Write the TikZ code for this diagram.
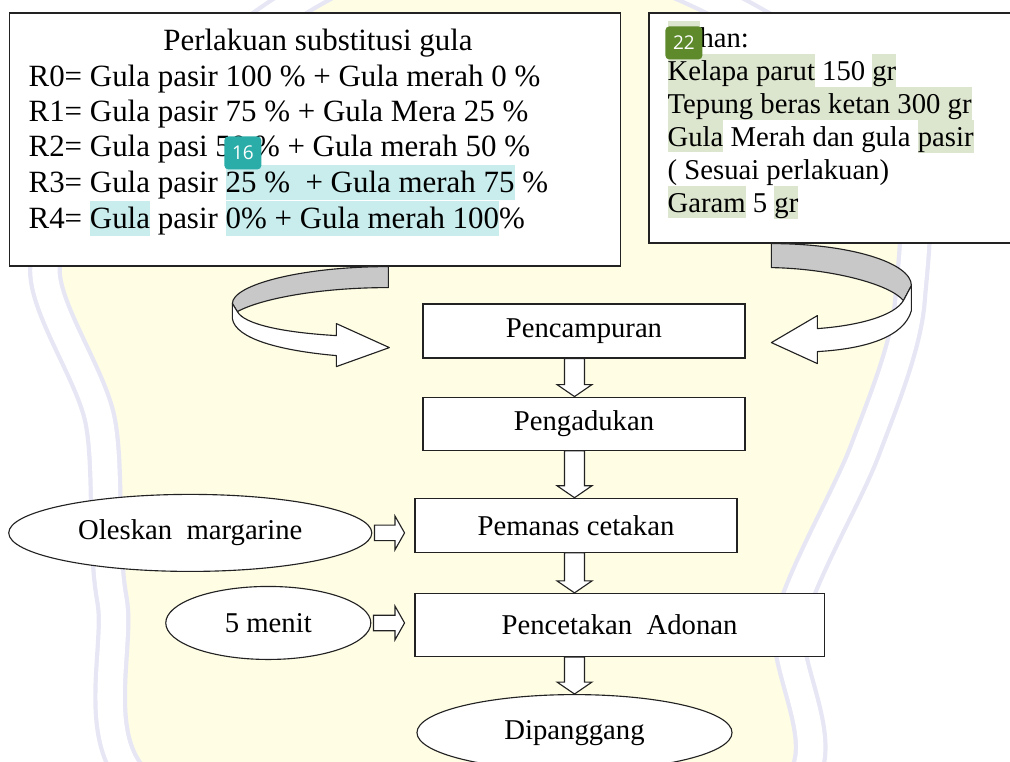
\documentclass[tikz,border=0pt]{standalone}
\usepackage{fontspec}
\setmainfont{Liberation Serif}
\newfontfamily\badgefont{Open Sans}
\usepackage{xcolor}
\definecolor{boxLine}{HTML}{222222}
\definecolor{ribbonGray}{HTML}{C8C8C8}
\definecolor{hlTeal}{HTML}{C9ECEC}
\definecolor{hlGreen}{HTML}{DCE5CE}
\definecolor{badgeTeal}{HTML}{2AADA8}
\definecolor{badgeGreen}{HTML}{5E8A2C}
\definecolor{wmYellow}{HTML}{FFFDE4}
\definecolor{wmLilac}{HTML}{E6E6F5}
\usepackage{tikz}
\usetikzlibrary{
    shapes.geometric,
    positioning,
    calc
}
\tikzset{
    % Boxes holding the treatment and ingredient lists
    listbox/.style={
        rectangle,
        draw=boxLine,
        line width=0.8pt,
        fill=white,
        inner sep=0pt,
    },
    % One text line inside a list box
    listline/.style={
        anchor=base west,
        inner sep=0pt,
    },
    % Process steps
    procbox/.style={
        rectangle,
        draw=boxLine,
        line width=0.8pt,
        fill=white,
        inner sep=0pt,
        font=\fontsize{20.4}{24}\selectfont,
    },
    % Ellipses for extra steps and the end
    endpoint/.style={
        ellipse,
        draw=boxLine,
        line width=0.8pt,
        fill=white,
        inner sep=0pt,
        font=\fontsize{20.4}{24}\selectfont,
    },
    % Hollow block arrows
    blockarrow/.style={
        draw=boxLine,
        line width=0.8pt,
        fill=white,
        line join=miter,
    },
    % Curled ribbon arrows
    ribbon back/.style={
        draw=boxLine,
        line width=0.8pt,
        fill=ribbonGray,
        line join=round,
    },
    ribbon front/.style={
        ribbon back,
        fill=white,
    },
    % Small numbered badges
    badge/.style={
        rounded corners=2.8pt,
        text=white,
        inner sep=0pt,
        minimum width=0.925cm,
        minimum height=0.825cm,
        font=\badgefont\fontsize{13.5}{13.5}\selectfont,
    },
}
\newcommand{\hlT}[1]{{\setlength{\fboxsep}{0pt}\colorbox{hlTeal}{\rule[-5.7pt]{0pt}{24.9pt}#1}}}
\newcommand{\hlG}[1]{{\setlength{\fboxsep}{0pt}\colorbox{hlGreen}{\rule[-4.3pt]{0pt}{22.8pt}#1}}}
\newcommand{\flowdown}[2]{%
    \draw [blockarrow] let \p1=(axis |- #1.south), \p2=(axis |- #2.north) in
        (\x1-7.1pt,\y1) -- (\x1+7.1pt,\y1) -- (\x1+7.1pt,\y2+8.5pt)
        -- (\x1+12.4pt,\y2+8.5pt) -- (\x2,\y2) -- (\x1-12.4pt,\y2+8.5pt)
        -- (\x1-7.1pt,\y2+8.5pt) -- cycle;}
\newcommand{\flowside}[2]{%
    \draw [blockarrow] let \p1=(#1.east), \p2=(#2.west |- #1.east) in
        (\x1+1.5pt,\y1+5.5pt) -- (\x2-13.8pt,\y1+5.5pt) -- (\x2-13.8pt,\y1+12pt)
        -- (\x2-7pt,\y1) -- (\x2-13.8pt,\y1-12pt) -- (\x2-13.8pt,\y1-5.5pt)
        -- (\x1+1.5pt,\y1-5.5pt) -- cycle;}

\begin{document}
\begin{tikzpicture}[x=0.025cm, y=-0.025cm]
    \useasboundingbox (0,0) rectangle (1010,761);

    % faint emblem behind the chart
    \fill [wmYellow] plot [smooth cycle] coordinates {
        (360,-30) (120,140) (45,267) (100,420) (112,600) (170,800)
        (770,800) (790,620) (865,450) (910,300) (890,120) (640,-30)};
    \draw [wmLilac, line width=3pt, double=white, double distance=18pt]
        plot [smooth cycle] coordinates {
        (360,-30) (120,140) (45,267) (100,420) (112,600) (170,800)
        (770,800) (790,620) (865,450) (910,300) (890,120) (640,-30)};

    % treatment list
    \node (treat) [listbox, minimum width=15.25cm, minimum height=6.325cm] at (315,139.5) {};
    \begin{scope}[font=\fontsize{22}{25}\selectfont]
        \node (title) [inner sep=0pt, anchor=base] at ($(treat.north)+(3,38)$) {Perlakuan substitusi gula};
        \node (r0) [listline] at ($(treat.north west)+(19,74)$) {R0= Gula pasir 100 \% + Gula merah 0 \%};
        \node (r1) [listline] at ($(treat.north west)+(19,109)$) {R1= Gula pasir 75 \% + Gula Mera 25 \%};
        \node (r2) [listline] at ($(treat.north west)+(19,144)$) {R2= Gula pasi 50 \% + Gula merah 50 \%};
        \node (r3) [listline] at ($(treat.north west)+(19,180)$) {R3= Gula pasir \hlT{25 \%\ \ + Gula merah 75} \%};
        \node (r4) [listline] at ($(treat.north west)+(19,216)$) {R4= \hlT{Gula} pasir \hlT{0\% + Gula merah 100}\%};
    \end{scope}

    % ingredient list
    \node (ingr) [listbox, minimum width=9.15cm, minimum height=5.75cm] at (832,128) {};
    \begin{scope}[font=\fontsize{20.4}{24}\selectfont]
        \node (i0) [listline] at ($(ingr.north west)+(19,35)$) {\hlG{Ba}han:};
        \node (i1) [listline] at ($(ingr.north west)+(19,68)$) {\hlG{Kelapa parut} 150 \hlG{gr}};
        \node (i2) [listline] at ($(ingr.north west)+(19,101)$) {\hlG{Tepung beras ketan 300 gr}};
        \node (i3) [listline] at ($(ingr.north west)+(19,134)$) {\hlG{Gula} Merah dan gula \hlG{pasir}};
        \node (i4) [listline] at ($(ingr.north west)+(19,167)$) {( Sesuai perlakuan)};
        \node (i5) [listline] at ($(ingr.north west)+(19,200)$) {\hlG{Garam} 5 \hlG{gr}};
    \end{scope}

    % process steps
    \node (pen) [procbox, minimum width=8.05cm, minimum height=1.35cm] at (584,331) {Pencampuran};
    \node (adu) [procbox, minimum width=8.05cm, minimum height=1.325cm, below=0.95cm of pen] {Pengadukan};
    \node (pem) [procbox, minimum width=8.05cm, minimum height=1.35cm, below=1.175cm of adu, xshift=-0.2cm] {Pemanas cetakan};
    \node (pcet) [procbox, minimum width=10.225cm, minimum height=1.575cm, below=1cm of pem, xshift=1.0875cm] {Pencetakan\ \ Adonan};
    \node (bake) [endpoint, minimum width=7.875cm, minimum height=1.9cm, below=0.925cm of pcet, xshift=-1.125cm] {Dipanggang};
    \node (oles) [endpoint, minimum width=9.075cm, minimum height=1.925cm, left=1.05cm of pem, yshift=-0.19cm] {Oleskan\ \ margarine};
    \node (menit) [endpoint, minimum width=5.125cm, minimum height=1.825cm, left=1.075cm of pcet, yshift=0.05cm] {5 menit};

    % block arrows
    \coordinate (axis) at (574.5,0);
    \flowdown{pen}{adu}
    \flowdown{adu}{pem}
    \flowdown{pem}{pcet}
    \flowdown{pcet}{bake}
    \flowside{oles}{pem}
    \flowside{menit}{pcet}

    % curled arrows from the two lists into the mixing step
    \coordinate (lfrom) at ($(treat.south west)+(379,0)$);
    \coordinate (rfrom) at ($(ingr.south west)+(123,0)$);
    \begin{scope}[shift={(lfrom)}]
        \draw [ribbon back] (0,0) .. controls (-86,0) and (-156,18) .. (-156,37)
            -- (-151,45) .. controls (-127,32) and (-69,21) .. (0,21) -- cycle;
        \draw [ribbon front] (-156,37) -- (-156,52) .. controls (-153,72) and (-109,84) .. (-52,89)
            -- (-52,100) -- (1,81) -- (-52,57) -- (-52,69)
            .. controls (-104,66) and (-144,58) .. (-151,45) -- cycle;
    \end{scope}
    \begin{scope}[shift={(rfrom)}]
        \draw [ribbon back] (0,0) .. controls (78,0) and (140,19) .. (140,42)
            -- (132,57) .. controls (118,40) and (58,25) .. (0,24) -- cycle;
        \draw [ribbon front] (140,42) -- (140,67) .. controls (133,92) and (98,105) .. (46,108)
            -- (46,120) -- (0,99) -- (46,72) -- (46,85)
            .. controls (88,82) and (123,72) .. (132,57) -- cycle;
    \end{scope}

    % badges
    \node (b16) [badge, fill=badgeTeal] at ($(treat.north west)+(233.5,140.5)$) {16};
    \node (b22) [badge, fill=badgeGreen] at ($(ingr.north west)+(35.5,30.5)$) {22};
\end{tikzpicture}
\end{document}
